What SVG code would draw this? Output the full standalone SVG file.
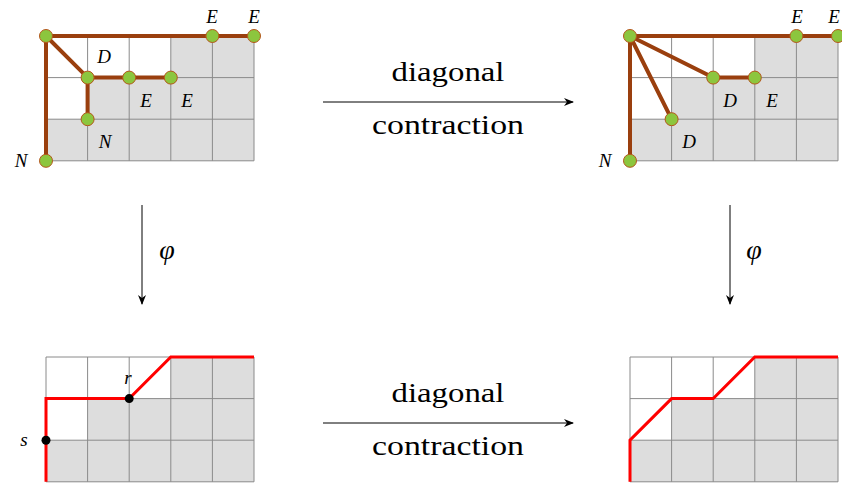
<svg xmlns="http://www.w3.org/2000/svg" xmlns:xlink="http://www.w3.org/1999/xlink" width="842" height="485" viewBox="0 0 842 485">
<style>
.lbl{font-family:"Liberation Serif","Times New Roman",Tinos,serif;font-style:italic;font-size:19px;fill:#000;text-anchor:middle}
.big{font-family:"Liberation Serif","Times New Roman",Tinos,serif;font-size:28px;fill:#000;text-anchor:middle}
.phi{font-family:"Liberation Serif","Times New Roman",Tinos,serif;font-style:italic;font-size:28px;fill:#000;text-anchor:middle}
.edge{stroke:#9a3f0e;stroke-width:4;fill:none;stroke-linecap:round}
.node{fill:#8cc63e;stroke:#b5561a;stroke-width:1}
.path{stroke:#ff0000;stroke-width:3;fill:none}
.arr{stroke:#000;stroke-width:1;fill:none;marker-end:url(#ah)}
.gl{stroke:#8a8a8a;stroke-width:1;fill:none}
</style>
<defs>
<marker id="ah" viewBox="0 0 10 10" refX="9" refY="5" markerWidth="10" markerHeight="10" markerUnits="userSpaceOnUse" orient="auto">
<path d="M0,1 L10,5 L0,9 L3,5 Z" fill="#000"/>
</marker>
<g id="grid">
<polygon points="124.8,0 208,0 208,124.8 0,124.8 0,83.2 41.6,83.2 41.6,41.6 124.8,41.6" fill="#dddddd"/>
<path class="gl" d="M0,0V124.8M41.6,0V124.8M83.2,0V124.8M124.8,0V124.8M166.4,0V124.8M208,0V124.8M0,0H208M0,41.6H208M0,83.2H208M0,124.8H208"/>
</g>
</defs>

<g id="panel-top-left">
<use xlink:href="#grid" x="46" y="36"/>
<g class="edges">
<path class="edge" d="M46,36H254M46,36V160.8M46,36L87.6,77.6H170.8M87.6,77.6V119.2"/>
</g>
<circle class="node" cx="46" cy="36" r="6.5"/>
<circle class="node" cx="212.4" cy="36" r="6.5"/>
<circle class="node" cx="254" cy="36" r="6.5"/>
<circle class="node" cx="87.6" cy="77.6" r="6.5"/>
<circle class="node" cx="129.2" cy="77.6" r="6.5"/>
<circle class="node" cx="170.8" cy="77.6" r="6.5"/>
<circle class="node" cx="87.6" cy="119.2" r="6.5"/>
<circle class="node" cx="46" cy="160.8" r="6.5"/>
<text class="lbl" x="212" y="23">E</text>
<text class="lbl" x="254" y="23">E</text>
<text class="lbl" x="104" y="63">D</text>
<text class="lbl" x="146" y="107">E</text>
<text class="lbl" x="187" y="107">E</text>
<text class="lbl" x="105" y="148">N</text>
<text class="lbl" x="21" y="167">N</text>
</g>

<g id="panel-top-right">
<use xlink:href="#grid" x="630" y="36"/>
<g class="edges">
<path class="edge" d="M630,36H838M630,36V160.8M630,36L713.2,77.6H754.8M630,36L671.6,119.2"/>
</g>
<circle class="node" cx="630" cy="36" r="6.5"/>
<circle class="node" cx="796.4" cy="36" r="6.5"/>
<circle class="node" cx="838" cy="36" r="6.5"/>
<circle class="node" cx="713.2" cy="77.6" r="6.5"/>
<circle class="node" cx="754.8" cy="77.6" r="6.5"/>
<circle class="node" cx="671.6" cy="119.2" r="6.5"/>
<circle class="node" cx="630" cy="160.8" r="6.5"/>
<text class="lbl" x="797" y="23">E</text>
<text class="lbl" x="834" y="23">E</text>
<text class="lbl" x="730" y="107">D</text>
<text class="lbl" x="772" y="107">E</text>
<text class="lbl" x="689" y="148">D</text>
<text class="lbl" x="605" y="167">N</text>
</g>

<g id="panel-bottom-left">
<use xlink:href="#grid" x="46" y="357"/>
<path class="path" d="M46,481.8V398.6H129.2L170.8,357H254"/>
<circle cx="46" cy="440.2" r="4.5" fill="#000"/>
<circle cx="129.2" cy="398.6" r="4.5" fill="#000"/>
<text class="lbl" x="128" y="384">r</text>
<text class="lbl" x="24" y="446">s</text>
</g>

<g id="panel-bottom-right">
<use xlink:href="#grid" x="630" y="357"/>
<path class="path" d="M630,481.8V440.2L671.6,398.6H713.2L754.8,357H838"/>
</g>

<g id="connectors">
<line class="arr" x1="323" y1="102" x2="573" y2="102"/>
<line class="arr" x1="323" y1="423" x2="573" y2="423"/>
<line class="arr" x1="142" y1="205" x2="142" y2="304"/>
<line class="arr" x1="730" y1="205" x2="730" y2="304"/>
</g>

<g id="labels">
<text class="big" x="448" y="81" textLength="113" lengthAdjust="spacingAndGlyphs">diagonal</text>
<text class="big" x="448" y="134" textLength="152" lengthAdjust="spacingAndGlyphs">contraction</text>
<text class="big" x="448" y="402" textLength="113" lengthAdjust="spacingAndGlyphs">diagonal</text>
<text class="big" x="448" y="455" textLength="152" lengthAdjust="spacingAndGlyphs">contraction</text>
<text class="phi" x="167" y="259">φ</text>
<text class="phi" x="754" y="259">φ</text>
</g>
</svg>
